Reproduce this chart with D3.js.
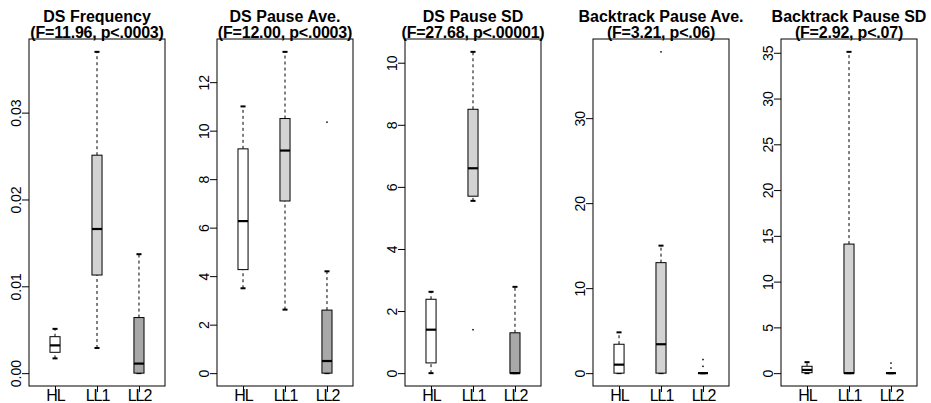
<!DOCTYPE html>
<html>
<head>
<meta charset="utf-8">
<script src="https://cdn.jsdelivr.net/npm/d3@7"></script>
<style>
  body { margin: 0; background: #fff; }
  svg { display: block; font-family: "Liberation Sans", Arial, sans-serif; }
</style>
</head>
<body>
<svg width="931" height="403"></svg>
<script>
// groups on the x axis
var groups = ["HL", "LL1", "LL2"];
var titles = ["DS Frequency", "DS Pause Ave.", "DS Pause SD", "Backtrack Pause Ave.", "Backtrack Pause SD"];
var subtitles = ["(F=11.96, p<.0003)", "(F=12.00, p<.0003)", "(F=27.68, p<.00001)", "(F=3.21, p<.06)", "(F=2.92, p<.07)"];

// [low whisker, q1, median, q3, high whisker] for HL, LL1, LL2
var dsFrequency = [
  [0.0017, 0.0024, 0.0032, 0.0042, 0.0051],
  [0.0029, 0.0113, 0.0166, 0.0251, 0.0370],
  [0, 0, 0.0011, 0.0064, 0.0137]
];
var dsPauseAve = [
  [3.5, 4.27, 6.27, 9.25, 11.0],
  [2.62, 7.1, 9.18, 10.5, 13.25],
  [0, 0, 0.5, 2.6, 4.2]
];
var dsPauseSD = [
  [0, 0.33, 1.4, 2.38, 2.62],
  [5.55, 5.7, 6.6, 8.5, 10.35],
  [0, 0, 0, 1.3, 2.78]
];
var btPauseAve = [
  [0, 0, 1.0, 3.4, 4.8],
  [0, 0, 3.4, 13.0, 15.0],
  [0, 0, 0, 0, 0]
];
var btPauseSD = [
  [0, 0.05, 0.35, 0.75, 1.2],
  [0, 0, 0, 14.1, 35.1],
  [0, 0, 0, 0, 0]
];

// outliers per group
var dsFrequencyOut = [[], [], []];
var dsPauseAveOut = [[], [], [10.35]];
var dsPauseSDOut = [[], [1.4], []];
var btPauseAveOut = [[], [37.8], [0.8, 1.6]];
var btPauseSDOut = [[], [], [0.56, 1.1]];

// y tick values
var dsFrequencyTicks = [0, 0.01, 0.02, 0.03];
var dsPauseAveTicks = [0, 2, 4, 6, 8, 10, 12];
var dsPauseSDTicks = [0, 2, 4, 6, 8, 10];
var btPauseAveTicks = [0, 10, 20, 30];
var btPauseSDTicks = [0, 5, 10, 15, 20, 25, 30, 35];

var panels = [
  {stats: dsFrequency, out: dsFrequencyOut, ticks: dsFrequencyTicks, fmt: d3.format(".2f")},
  {stats: dsPauseAve, out: dsPauseAveOut, ticks: dsPauseAveTicks, fmt: d3.format("d")},
  {stats: dsPauseSD, out: dsPauseSDOut, ticks: dsPauseSDTicks, fmt: d3.format("d")},
  {stats: btPauseAve, out: btPauseAveOut, ticks: btPauseAveTicks, fmt: d3.format("d")},
  {stats: btPauseSD, out: btPauseSDOut, ticks: btPauseSDTicks, fmt: d3.format("d")}
];

var fills = ["#ffffff", "#d3d3d3", "#a8a8a8"];
var svg = d3.select("svg");
var plotTop = 39, plotBottom = 386, pw = 136;

panels.forEach(function(p, k) {
  var left = 29 + 188 * k;
  var g = svg.append("g");

  var x = d3.scaleLinear().domain([0.38, 3.62]).range([left, left + pw]);
  var all = [];
  p.stats.forEach(function(s, i) { all = all.concat(s, p.out[i]); });
  var lo = d3.min(all), hi = d3.max(all), r = hi - lo;
  var y = d3.scaleLinear().domain([lo - 0.04 * r, hi + 0.04 * r]).range([plotBottom, plotTop]);

  // titles (two lines, the second sits on the frame like in the R plot)
  var cx = left + pw / 2;
  g.append("text").attr("x", cx).attr("y", 22).attr("text-anchor", "middle")
    .attr("font-size", 16).attr("font-weight", "bold").text(titles[k]);
  g.append("text").attr("x", cx).attr("y", 38).attr("text-anchor", "middle")
    .attr("font-size", 16).attr("font-weight", "bold").attr("letter-spacing", -0.2).text(subtitles[k]);

  // y axis
  var ya = g.append("g").attr("transform", "translate(" + left + ",0)")
    .call(d3.axisLeft(y).tickValues(p.ticks).tickSize(7).tickFormat(p.fmt));
  ya.select(".domain").remove();
  ya.selectAll("line").attr("stroke", "#000");
  ya.selectAll("text").attr("x", null).attr("dy", null)
    .attr("transform", "translate(-8,0) rotate(-90)")
    .attr("text-anchor", "middle").attr("font-size", 14)
    .attr("font-family", "Liberation Sans, Arial, sans-serif").attr("fill", "#000");

  // x axis
  var xa = g.append("g").attr("transform", "translate(0," + plotBottom + ")")
    .call(d3.axisBottom(x).tickValues([1, 2, 3]).tickSize(6).tickFormat(function(d) { return groups[d - 1]; }));
  xa.select(".domain").remove();
  xa.selectAll("line").attr("stroke", "#000");
  xa.selectAll("text").attr("y", 15).attr("dy", null).attr("font-size", 16)
    .attr("letter-spacing", -1)
    .attr("font-family", "Liberation Sans, Arial, sans-serif").attr("fill", "#000");

  // boxes
  var hw = (x(1.12) - x(1));
  var sw = hw * 0.5;
  p.stats.forEach(function(s, i) {
    var xc = x(i + 1);
    g.append("line").attr("x1", xc).attr("x2", xc).attr("y1", y(s[3])).attr("y2", y(s[4]))
      .attr("stroke", "#000").attr("stroke-dasharray", "3,3");
    g.append("line").attr("x1", xc).attr("x2", xc).attr("y1", y(s[0])).attr("y2", y(s[1]))
      .attr("stroke", "#000").attr("stroke-dasharray", "3,3");
    [s[0], s[4]].forEach(function(v) {
      g.append("line").attr("x1", xc - sw).attr("x2", xc + sw).attr("y1", y(v)).attr("y2", y(v))
        .attr("stroke", "#000").attr("stroke-width", 2);
    });
    g.append("rect").attr("x", xc - hw).attr("width", 2 * hw)
      .attr("y", y(s[3])).attr("height", Math.max(0, y(s[1]) - y(s[3])))
      .attr("fill", fills[i]).attr("stroke", "#000");
    g.append("line").attr("x1", xc - hw).attr("x2", xc + hw).attr("y1", y(s[2])).attr("y2", y(s[2]))
      .attr("stroke", "#000").attr("stroke-width", 2.2);
    p.out[i].forEach(function(v) {
      g.append("rect").attr("x", xc - 0.75).attr("y", y(v) - 0.75).attr("width", 1.5).attr("height", 1.5).attr("fill", "#000");
    });
  });

  // frame
  g.append("rect").attr("x", left).attr("y", plotTop).attr("width", pw).attr("height", plotBottom - plotTop)
    .attr("fill", "none").attr("stroke", "#000");
});
</script>
</body>
</html>
